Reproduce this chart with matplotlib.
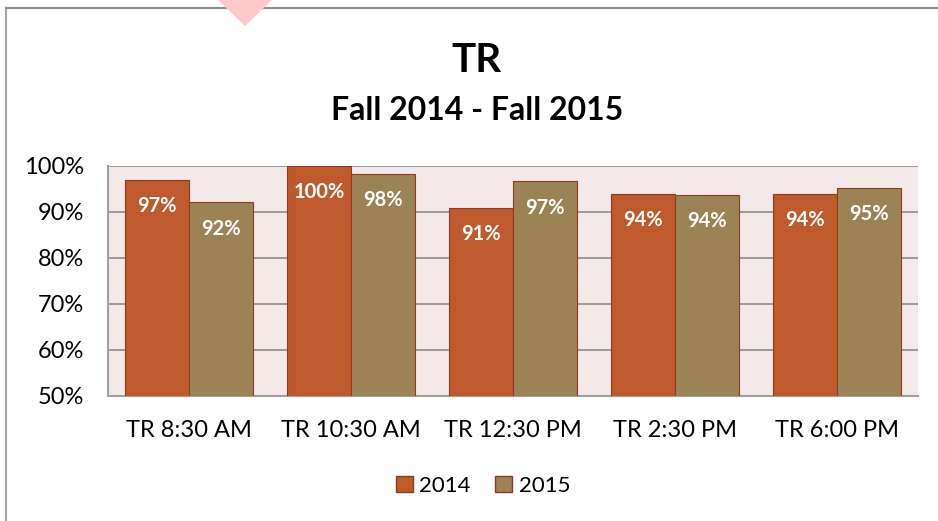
import matplotlib.pyplot as plt
import numpy as np
from matplotlib.patches import Polygon, Patch
from matplotlib.lines import Line2D

categories = ["TR 8:30 AM", "TR 10:30 AM", "TR 12:30 PM", "TR 2:30 PM", "TR 6:00 PM"]
vals_2014 = [97.0, 100.0, 90.9, 94.0, 94.0]
vals_2015 = [92.1, 98.3, 96.7, 93.7, 95.2]
series_names = ["2014", "2015"]
y_ticks = [50, 60, 70, 80, 90, 100]

plt.rcParams['font.family'] = ['Lato', 'DejaVu Sans']

c2014 = '#BE5A2B'
c2015 = '#9C8356'
edge = '#8E3A1E'

fig = plt.figure(figsize=(9.38, 5.21), dpi=100)
ax = fig.add_axes([108 / 938, 1 - 396 / 521, 810 / 938, 230 / 521])
ax.set_facecolor('#F3E9E8')

x = np.arange(len(categories))
w = 0.392
b1 = ax.bar(x - w / 2, vals_2014, w, color=c2014, edgecolor=edge, linewidth=0.8, zorder=3)
b2 = ax.bar(x + w / 2, vals_2015, w, color=c2015, edgecolor=edge, linewidth=0.8, zorder=3)

for bars, vals in ((b1, vals_2014), (b2, vals_2015)):
    for bar, v in zip(bars, vals):
        ax.annotate(f"{round(v):.0f}%", (bar.get_x() + bar.get_width() / 2, v),
                    xytext=(0, -19), textcoords='offset points', ha='center', va='center',
                    color='white', fontsize=14.5, fontweight='bold', zorder=4)

ax.set_xlim(-0.5, len(categories) - 0.5)
ax.set_ylim(50, 100)
ax.set_yticks(y_ticks)
ax.set_yticklabels([f"{t}%" for t in y_ticks], fontsize=17)
ax.set_xticks(x)
ax.set_xticklabels(categories, fontsize=17)
ax.tick_params(axis='both', length=0)
ax.tick_params(axis='y', pad=17)
ax.tick_params(axis='x', pad=17)
ax.grid(axis='y', color='#8C8C8C', linewidth=1.2, zorder=1)
ax.set_axisbelow(True)
for s in ['top', 'right']:
    ax.spines[s].set_visible(False)
for s in ['left', 'bottom']:
    ax.spines[s].set_color('#A0A0A0')
    ax.spines[s].set_linewidth(1.5)

fig.text(476 / 938, 1 - 60 / 521, "TR", ha='center', va='center', fontsize=29, fontweight='bold')
fig.text(477 / 938, 1 - 110 / 521, "Fall 2014 - Fall 2015", ha='center', va='center',
         fontsize=23, fontweight='bold')

handles = [Patch(facecolor=c2014, edgecolor=edge), Patch(facecolor=c2015, edgecolor=edge)]
fig.legend(handles, series_names, loc='center', bbox_to_anchor=(483 / 938, 1 - 486 / 521),
           ncol=2, frameon=False, fontsize=16, handlelength=0.75, handleheight=0.75,
           handletextpad=0.3, columnspacing=1.1)

# chart border (left and top edges visible)
fig.add_artist(Line2D([6 / 938, 6 / 938], [0, 1 - 8 / 521], transform=fig.transFigure,
                      color='#A6A6A6', linewidth=1.5))
fig.add_artist(Line2D([6 / 938, 1], [1 - 8 / 521, 1 - 8 / 521], transform=fig.transFigure,
                      color='#8C8C8C', linewidth=1.5))
# pink marker at top
fig.add_artist(Polygon([[218 / 938, 1], [272 / 938, 1], [245 / 938, 1 - 26 / 521]],
                       closed=True, transform=fig.transFigure, facecolor='#FFC9CA',
                       edgecolor='none', zorder=5))

fig.savefig("out.png", dpi=100)
